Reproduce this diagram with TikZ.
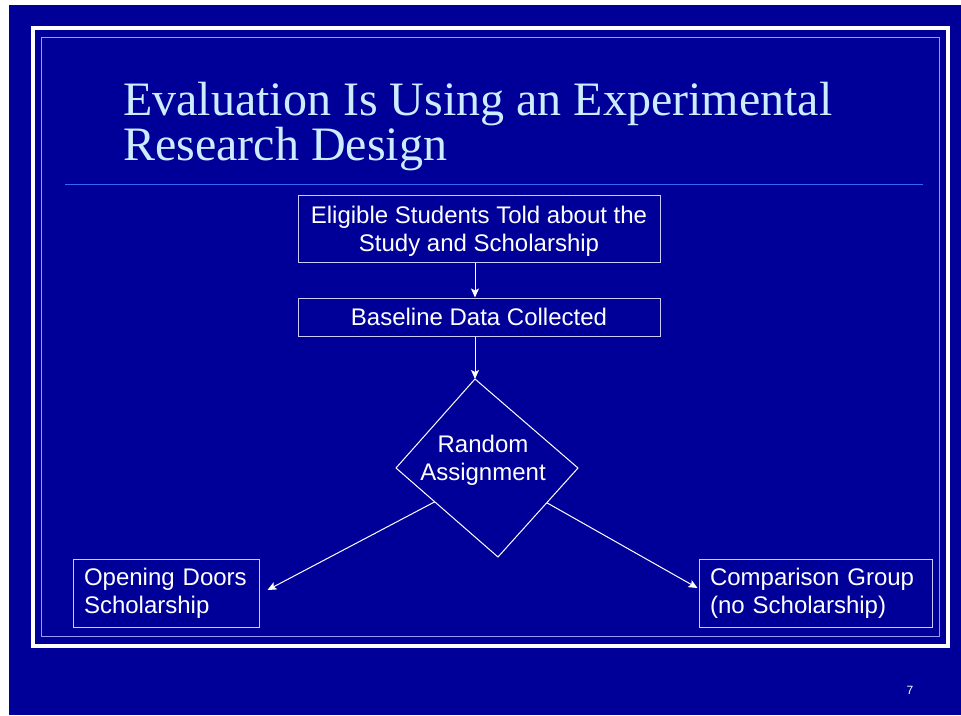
\documentclass[tikz,border=0pt]{standalone}
\usepackage{fontspec}
\setmainfont{Liberation Sans}
\newfontfamily\titlefont{Liberation Serif}
\usetikzlibrary{calc, arrows.meta}

\definecolor{slideblue}{RGB}{0,0,153}
\definecolor{titleblue}{RGB}{204,236,255}
\definecolor{ruleblue}{RGB}{51,102,255}
\definecolor{framelav}{RGB}{153,153,255}
\definecolor{boxlav}{RGB}{204,204,255}

\tikzset{
	stepbox/.style={draw=boxlav, line width=1pt, text=white, font=\fontsize{24}{28}\selectfont, inner sep=0pt},
	link/.style={draw=white, line width=1pt, -{Stealth[length=9pt, width=8pt, inset=2pt]}},
}

\begin{document}
\begin{tikzpicture}[x=1pt, y=-1pt]
		\useasboundingbox (0,0) rectangle (961,715);
		\fill[white] (0,0) rectangle (961,715);
		\fill[slideblue] (9,5) rectangle (961,715);
	
		% frames
		\draw[white, line width=4pt] (33,28) rectangle (948,646);
		\draw[framelav, line width=1pt] (41,37) rectangle (939,636);
		
		% title
		\node[anchor=base west, inner sep=0pt, align=left, text=titleblue, font=\titlefont\fontsize{48}{45}\selectfont] (title) at (123,160) {Evaluation Is Using an Experimental\\Research Design};
		\draw[ruleblue, line width=1pt] (65,184) -- (923,184);
		
		% boxes
		\node[stepbox, minimum width=362, minimum height=67, align=center, text depth=0pt] (told) at (479,228.5) {Eligible Students Told about the\\Study and Scholarship};
		\node[stepbox, minimum width=362, minimum height=38] (baseline) at (479,317) {Baseline Data Collected};
		
		\coordinate (dtop) at (475,379);
		\coordinate (dleft) at (396,468);
		\coordinate (dright) at (578,468);
		\coordinate (dbottom) at (498,557);
		\draw[white, line width=1pt] (dtop) -- (dright) -- (dbottom) -- (dleft) -- cycle;
		\node[text=white, font=\fontsize{24}{28}\selectfont, align=center, text depth=0pt] (assign) at (483,458) {Random\\Assignment};
		
		\node[stepbox, minimum height=68, text width=164, inner xsep=11, align=left] (doors) at (166,593) {Opening Doors\\Scholarship};
		\node[stepbox, minimum height=68, text width=211, inner xsep=11, align=left] (comparison) at (815.5,593) {Comparison Group\\(no Scholarship)};
		
		\node[text=white, font=\fontsize{12}{14}\selectfont] (page) at (910,690) {7};
		
		\begin{scope}[link]
			\coordinate (doorsin) at ($(doors.east)+(8,-3)$);
			\coordinate (compin) at ($(comparison.west)+(-1,-5)$);
			\draw (told.south -| dtop) -- (baseline.north -| dtop);
			\draw (baseline.south -| dtop) -- (dtop);
			\draw ($(dleft)!0.38!(dbottom)$) -- (doorsin);
			\draw ($(dright)!0.39!(dbottom)$) -- (compin);
		\end{scope}
\end{tikzpicture}
\end{document}
